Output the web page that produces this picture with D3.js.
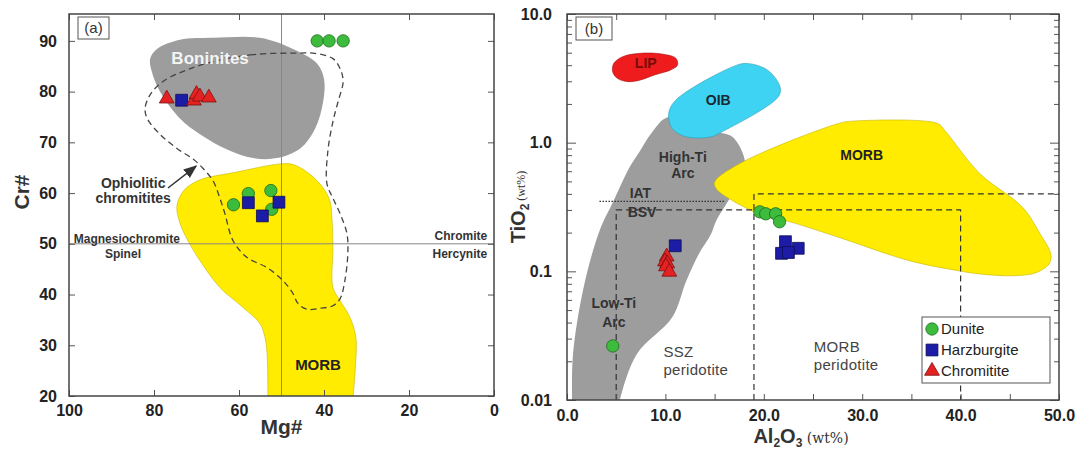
<!DOCTYPE html>
<html>
<head>
<meta charset="utf-8">
<script src="https://cdn.jsdelivr.net/npm/d3@7"></script>
<style>
  body { margin: 0; background: #fff; }
  svg { display: block; font-family: Arial, "Liberation Sans", sans-serif; }
</style>
</head>
<body>
<svg id="chart" width="1075" height="452"></svg>
<script>
// ---------- panel (a): Cr# vs Mg# ----------
const mgTicks = [100, 80, 60, 40, 20, 0];
const crTicks = [20, 30, 40, 50, 60, 70, 80, 90];

// samples [Mg#, Cr#]
const duniteA = [[41.6, 90], [38.8, 90], [35.5, 90], [61.3, 57.7], [57.8, 59.9], [52.5, 60.5], [52.3, 56.8]];
const harzA = [[73.5, 78.3], [57.8, 58.1], [54.5, 55.5], [50.6, 58.2]];
const chromA = [[77.0, 78.6], [70.6, 78.2], [70.0, 79.5], [69.2, 79.0], [67.1, 78.8]];

// fields
const boniniteField = [[80.9, 86.5], [79.3, 88.4], [73.9, 90.2], [66.1, 90.6], [55.1, 90.6], [47.3, 88.4], [41.6, 85.5],
  [40.0, 82.5], [40.2, 78.0], [42.1, 72.7], [45.6, 68.8], [51.1, 66.9], [56.7, 66.9], [62.8, 68.6], [69.2, 71.6],
  [73.9, 74.7], [78.6, 80.0], [80.5, 83.9]];
const morbFieldA = [[74.6, 57.5], [72.9, 60.6], [69.2, 62.6], [61.4, 64.0], [49.6, 65.8], [46.8, 65.5], [43.3, 63.7],
  [40.2, 61.0], [38.6, 58.4], [38.1, 54.5], [37.9, 49.2], [37.9, 41.4], [36.2, 38.8], [33.9, 35.5], [32.5, 31.6],
  [32.6, 26.0], [33.2, 19.0], [33.4, 14.0], [53.3, 14.0], [53.2, 19.0], [53.4, 28.4], [53.9, 31.6], [55.1, 34.3],
  [59.1, 37.5], [64.5, 41.4], [69.2, 46.7], [72.0, 50.6], [73.9, 54.1]];
const ophioliticField = [[45.6, 87.6], [56.7, 87.3], [66.1, 85.9], [72.2, 84.3], [77.9, 82.0], [80.9, 79.4], [82.1, 76.7],
  [81.6, 74.7], [78.6, 71.6], [74.6, 68.8], [70.8, 66.7], [68.5, 64.9], [66.1, 62.4], [64.5, 59.0], [63.3, 55.9],
  [61.4, 50.6], [58.1, 47.3], [53.4, 45.3], [49.6, 42.7], [47.3, 40.2], [46.1, 38.2], [44.0, 37.1], [40.9, 37.3],
  [37.9, 37.8], [36.2, 39.2], [35.1, 42.7], [34.4, 48.0], [34.6, 52.0], [36.2, 55.9], [37.9, 59.0], [39.3, 61.8],
  [39.1, 68.2], [37.9, 74.1], [36.7, 78.0], [35.5, 82.0], [36.2, 84.5], [37.9, 86.5], [42.6, 87.6]];
const arrowA = [[76.7, 61.0], [70.1, 65.3]];
const dividerMg = 50, dividerCr = 50;

// labels [Mg#, Cr#, text]
const boldLabelsA = [[84.9, 62.0, "Ophiolitic"], [84.9, 59.0, "chromitites"]];
const spinelLabelsA = [[86.4, 51.0, "Magnesiochromite", "middle"], [87.3, 48.0, "Spinel", "middle"],
  [1.6, 51.6, "Chromite", "end"], [1.6, 48.0, "Hercynite", "end"]];

// ---------- panel (b): TiO2 vs Al2O3 ----------
const alTicks = [0, 10, 20, 30, 40, 50];
const alMinor = [5, 15, 25, 35, 45];
const tiTicks = [0.01, 0.1, 1, 10];
const tiLabels = ["0.01", "0.1", "1.0", "10.0"];

// samples [Al2O3, TiO2]
const duniteB = [[19.6, 0.29], [20.2, 0.28], [21.2, 0.28], [21.6, 0.243], [4.65, 0.0263]];
const harzB = [[11.0, 0.158], [22.2, 0.170], [23.5, 0.151], [21.8, 0.138], [22.5, 0.140]];
const chromB = [[10.13, 0.130], [9.96, 0.119], [10.19, 0.115], [10.06, 0.109], [10.4, 0.099]];

const lipField = [[4.76, 4.14], [5.66, 4.66], [7.46, 4.95], [9.61, 4.89], [11.06, 4.53], [11.23, 4.01], [10.52, 3.67],
  [8.89, 3.36], [7.46, 3.07], [6.2, 2.98], [5.12, 3.16], [4.64, 3.56]];
const oibField = [[10.33, 1.68], [11.05, 2.14], [16.8, 3.88], [18.23, 4.13], [20.39, 3.66], [21.65, 2.71], [21.47, 2.27],
  [15.72, 1.21], [14.64, 1.11], [12.13, 1.11], [10.68, 1.29]];
const arcField = [[10.33, 1.58], [8.52, 1.17], [7.45, 0.871], [6.37, 0.646], [4.75, 0.355], [3.31, 0.207], [1.69, 0.075],
  [0.61, 0.0227], [0.5, 0.0095], [0.45, 0.007], [5.0, 0.007], [5.29, 0.0095], [7.09, 0.0227], [10.68, 0.0437],
  [12.13, 0.0845], [13.38, 0.136], [14.64, 0.195], [15.18, 0.248], [16.8, 0.40], [18.06, 0.646], [17.88, 0.82],
  [16.8, 1.11], [15.36, 1.21]];
const morbFieldB = [[15.0, 0.493], [17.52, 0.686], [27.59, 1.41], [29.02, 1.47], [37.66, 1.41], [38.37, 1.25],
  [41.97, 0.573], [46.29, 0.315], [48.09, 0.195], [49.17, 0.136], [48.99, 0.114], [47.73, 0.098], [45.58, 0.0925],
  [41.97, 0.0953], [39.81, 0.101], [34.79, 0.121], [27.59, 0.184], [22.19, 0.248], [20.39, 0.263], [16.8, 0.355],
  [15.18, 0.438]];
const sszLine = [[5, 0.01], [5, 0.3], [40, 0.3], [40, 0.01]];
const morbLine = [[19, 0.01], [19, 0.4], [50, 0.4]];
const iatBsvLine = [[3.3, 0.35], [16, 0.35]];

const fieldLabelsB = [[8.0, 4.14, "LIP", "#7a0a0a"], [15.37, 2.15, "OIB", "#1a2a33"], [11.77, 0.778, "High-Ti", "#333"],
  [11.77, 0.578, "Arc", "#333"], [29.94, 0.80, "MORB", "#222"], [7.46, 0.404, "IAT", "#333"], [7.63, 0.29, "BSV", "#333"],
  [4.76, 0.0565, "Low-Ti", "#333"], [4.76, 0.0406, "Arc", "#333"]];
const plainLabelsB = [[9.8, 0.0238, "SSZ"], [9.8, 0.0171, "peridotite"], [25.08, 0.026, "MORB"], [25.08, 0.0187, "peridotite"]];
const legendNames = ["Dunite", "Harzburgite", "Chromitite"];

// ---------- styles ----------
const green = "#3dbb3d", greenStroke = "#1c6b1c";
const blue = "#1c1ca6", blueStroke = "#0c0c55";
const red = "#e52222", redStroke = "#7a1010";
const yellow = "#ffec00", grey = "#9d9d9d";

const svg = d3.select("#chart");
const defs = svg.append("defs");
defs.append("marker").attr("id", "arrow").attr("viewBox", "0 0 10 10").attr("refX", 9).attr("refY", 5)
  .attr("markerWidth", 9).attr("markerHeight", 9).attr("orient", "auto")
  .append("path").attr("d", "M0,1 L10,5 L0,9 Z").attr("fill", "#333");

const smooth = d3.curveCatmullRomClosed.alpha(0.5);

function symbolPath(type) {
  if (type === "circle") return d3.symbol(d3.symbolCircle, 120)();
  if (type === "square") return d3.symbol(d3.symbolSquare, 140)();
  return d3.symbol(d3.symbolTriangle, 95)();
}
function drawPoints(g, data, x, y, type, fill, stroke) {
  g.append("g").selectAll("path").data(data).enter().append("path")
    .attr("transform", d => `translate(${x(d[0])},${y(d[1])})`)
    .attr("d", symbolPath(type))
    .attr("fill", fill).attr("stroke", stroke).attr("stroke-width", 0.8);
}
function frameAxes(g, x, y, opts) {
  const [x0, x1] = x.range(), [y0, y1] = y.range();
  g.append("g").attr("transform", `translate(0,${y0})`)
    .call(d3.axisBottom(x).tickValues(opts.xTicks).tickSize(-opts.tick).tickPadding(opts.xPad).tickFormat(opts.xFormat))
    .call(s => s.select(".domain").remove());
  g.append("g").attr("transform", `translate(0,${y1})`)
    .call(d3.axisTop(x).tickValues(opts.xTicks).tickSize(-opts.tick).tickFormat(""))
    .call(s => s.select(".domain").remove());
  g.append("g").attr("transform", `translate(${x0},0)`)
    .call(d3.axisLeft(y).tickValues(opts.yTicks).tickSize(-opts.ytick).tickPadding(opts.yPad).tickFormat(opts.yFormat))
    .call(s => s.select(".domain").remove());
  g.append("g").attr("transform", `translate(${x1},0)`)
    .call(d3.axisRight(y).tickValues(opts.yTicks).tickSize(-opts.ytick).tickFormat(""))
    .call(s => s.select(".domain").remove());
  g.selectAll(".tick line").attr("stroke", "#555");
  g.selectAll(".tick text").attr("font-size", 16).attr("font-weight", "bold").attr("fill", "#222")
    .attr("font-family", "Arial, 'Liberation Sans', sans-serif");
  g.append("rect").attr("x", x0).attr("y", y1).attr("width", x1 - x0).attr("height", y0 - y1)
    .attr("fill", "none").attr("stroke", "#444").attr("stroke-width", 1.5);
}

// ================= panel (a) =================
const ax = d3.scaleLinear().domain([100, 0]).range([69, 494]);
const ay = d3.scaleLinear().domain([20, 95.3]).range([396, 14]);
const lineA = d3.line().x(d => ax(d[0])).y(d => ay(d[1]));
const pa = svg.append("g");

defs.append("clipPath").attr("id", "clipA").append("rect")
  .attr("x", 69).attr("y", 14).attr("width", 425).attr("height", 382);
const fa = pa.append("g").attr("clip-path", "url(#clipA)");

fa.append("path").attr("d", lineA.curve(smooth)(boniniteField)).attr("fill", grey);
fa.append("path").attr("d", lineA.curve(smooth)(morbFieldA)).attr("fill", yellow)
  .attr("stroke", "#c8b400").attr("stroke-width", 0.6);
fa.append("line").attr("x1", ax(dividerMg)).attr("x2", ax(dividerMg)).attr("y1", ay(20)).attr("y2", ay(95.3))
  .attr("stroke", "#888").attr("stroke-width", 1);
fa.append("line").attr("x1", ax(100)).attr("x2", ax(0)).attr("y1", ay(dividerCr)).attr("y2", ay(dividerCr))
  .attr("stroke", "#888").attr("stroke-width", 1);
fa.append("path").attr("d", lineA.curve(smooth)(ophioliticField)).attr("fill", "none")
  .attr("stroke", "#444").attr("stroke-width", 1.3).attr("stroke-dasharray", "6,4");
pa.append("path").attr("d", lineA.curve(d3.curveLinear)(arrowA)).attr("stroke", "#333").attr("stroke-width", 1.5)
  .attr("fill", "none").attr("marker-end", "url(#arrow)");

pa.append("text").attr("x", ax(66.8)).attr("y", ay(86.6)).attr("text-anchor", "middle").attr("dy", "0.35em")
  .attr("font-size", 17).attr("font-weight", "bold").attr("fill", "#f4f4f4").text("Boninites");
pa.append("text").attr("x", ax(41.4)).attr("y", ay(26.1)).attr("text-anchor", "middle").attr("dy", "0.35em")
  .attr("font-size", 15).attr("font-weight", "bold").attr("fill", "#222").text("MORB");
pa.selectAll(".blab").data(boldLabelsA).enter().append("text")
  .attr("x", d => ax(d[0])).attr("y", d => ay(d[1])).attr("dy", "0.35em").attr("text-anchor", "middle")
  .attr("font-size", 14).attr("font-weight", "bold").attr("fill", "#333").text(d => d[2]);
pa.selectAll(".slab").data(spinelLabelsA).enter().append("text")
  .attr("x", d => ax(d[0])).attr("y", d => ay(d[1])).attr("dy", "0.35em").attr("text-anchor", d => d[3])
  .attr("font-size", 12).attr("font-weight", "bold").attr("fill", "#333").text(d => d[2]);

drawPoints(pa, duniteA, ax, ay, "circle", green, greenStroke);
drawPoints(pa, harzA, ax, ay, "square", blue, blueStroke);
drawPoints(pa, chromA, ax, ay, "triangle", red, redStroke);

frameAxes(pa, ax, ay, { xTicks: mgTicks, yTicks: crTicks, tick: 6, ytick: 6, xPad: 9, yPad: 12,
  xFormat: d3.format("d"), yFormat: d3.format("d") });

pa.append("rect").attr("x", 78).attr("y", 17).attr("width", 31).attr("height", 22)
  .attr("fill", "#fff").attr("stroke", "#555").attr("stroke-width", 1);
pa.append("text").attr("x", 93.5).attr("y", 28).attr("dy", "0.35em").attr("text-anchor", "middle")
  .attr("font-size", 15).attr("fill", "#333").text("(a)");

pa.append("text").attr("x", ax(50)).attr("y", 434).attr("text-anchor", "middle")
  .attr("font-size", 21).attr("font-weight", "bold").attr("fill", "#333").text("Mg#");
pa.append("text").attr("transform", "translate(29,192) rotate(-90)").attr("text-anchor", "middle")
  .attr("font-size", 21).attr("font-weight", "bold").attr("fill", "#333").text("Cr#");

// ================= panel (b) =================
const bx = d3.scaleLinear().domain([0, 50]).range([567, 1059]);
const by = d3.scaleLog().domain([0.01, 10]).range([400, 14]);
const lineB = d3.line().x(d => bx(d[0])).y(d => by(d[1]));
const pb = svg.append("g");

defs.append("clipPath").attr("id", "clipB").append("rect")
  .attr("x", 567).attr("y", 14).attr("width", 492).attr("height", 386);
const fb = pb.append("g").attr("clip-path", "url(#clipB)");

fb.append("path").attr("d", lineB.curve(smooth)(arcField)).attr("fill", grey);
fb.append("path").attr("d", lineB.curve(smooth)(oibField)).attr("fill", "#3ed3f2")
  .attr("stroke", "#2a9cb5").attr("stroke-width", 0.6);
fb.append("path").attr("d", lineB.curve(smooth)(lipField)).attr("fill", "#ee1c1c")
  .attr("stroke", "#a01010").attr("stroke-width", 0.6);
fb.append("path").attr("d", lineB.curve(smooth)(morbFieldB)).attr("fill", yellow)
  .attr("stroke", "#c8b400").attr("stroke-width", 0.6);

[sszLine, morbLine].forEach(l => {
  fb.append("path").attr("d", lineB.curve(d3.curveLinear)(l)).attr("fill", "none")
    .attr("stroke", "#333").attr("stroke-width", 1.2).attr("stroke-dasharray", "6,4");
});
fb.append("path").attr("d", lineB.curve(d3.curveLinear)(iatBsvLine)).attr("fill", "none")
  .attr("stroke", "#333").attr("stroke-width", 1.2).attr("stroke-dasharray", "1.5,1.5");

pb.selectAll(".flab").data(fieldLabelsB).enter().append("text")
  .attr("x", d => bx(d[0])).attr("y", d => by(d[1])).attr("dy", "0.35em").attr("text-anchor", "middle")
  .attr("font-size", 14).attr("font-weight", "bold").attr("fill", d => d[3]).text(d => d[2]);
pb.selectAll(".plab").data(plainLabelsB).enter().append("text")
  .attr("x", d => bx(d[0])).attr("y", d => by(d[1])).attr("dy", "0.35em")
  .attr("font-size", 15).attr("fill", "#444").attr("letter-spacing", 0.3).text(d => d[2]);

drawPoints(pb, duniteB, bx, by, "circle", green, greenStroke);
drawPoints(pb, harzB, bx, by, "square", blue, blueStroke);
drawPoints(pb, chromB, bx, by, "triangle", red, redStroke);

// minor ticks
const tiMinor = by.ticks().filter(v => !tiTicks.some(t => Math.abs(t - v) / t < 1e-6));
pb.append("g").attr("transform", `translate(${bx(0)},0)`)
  .call(d3.axisLeft(by).tickValues(tiMinor).tickSize(-5).tickFormat(""))
  .call(s => s.select(".domain").remove());
pb.append("g").attr("transform", `translate(${bx(50)},0)`)
  .call(d3.axisRight(by).tickValues(tiMinor).tickSize(-5).tickFormat(""))
  .call(s => s.select(".domain").remove());
pb.append("g").attr("transform", `translate(0,${by(0.01)})`)
  .call(d3.axisBottom(bx).tickValues(alMinor).tickSize(-6).tickFormat(""))
  .call(s => s.select(".domain").remove());
pb.append("g").attr("transform", `translate(0,${by(10)})`)
  .call(d3.axisTop(bx).tickValues(alMinor).tickSize(-6).tickFormat(""))
  .call(s => s.select(".domain").remove());

frameAxes(pb, bx, by, { xTicks: alTicks, yTicks: tiTicks, tick: 6, ytick: 9, xPad: 10, yPad: 15,
  xFormat: d3.format(".1f"), yFormat: (d, i) => tiLabels[i] });

// legend
const lg = pb.append("g").attr("transform", "translate(922,317)");
lg.append("rect").attr("width", 128).attr("height", 66).attr("fill", "#fff").attr("stroke", "#555");
const legendTypes = [["circle", green, greenStroke], ["square", blue, blueStroke], ["triangle", red, redStroke]];
legendNames.forEach((n, i) => {
  const yy = 12 + i * 21;
  lg.append("path").attr("transform", `translate(10,${yy})`).attr("d", symbolPath(legendTypes[i][0]))
    .attr("fill", legendTypes[i][1]).attr("stroke", legendTypes[i][2]).attr("stroke-width", 0.8);
  lg.append("text").attr("x", 19).attr("y", yy).attr("dy", "0.35em").attr("font-size", 15)
    .attr("fill", "#222").text(n);
});

pb.append("rect").attr("x", 576).attr("y", 17).attr("width", 36).attr("height", 23)
  .attr("fill", "#fff").attr("stroke", "#555").attr("stroke-width", 1);
pb.append("text").attr("x", 594).attr("y", 28.5).attr("dy", "0.35em").attr("text-anchor", "middle")
  .attr("font-size", 15).attr("fill", "#333").text("(b)");

// axis titles with subscripts
const alT = pb.append("text").attr("x", 801).attr("y", 443).attr("text-anchor", "middle")
  .attr("font-size", 20).attr("font-weight", "bold").attr("fill", "#333");
alT.append("tspan").text("Al");
alT.append("tspan").attr("font-size", 12).attr("dy", 4).text("2");
alT.append("tspan").attr("dy", -4).text("O");
alT.append("tspan").attr("font-size", 12).attr("dy", 4).text("3");
alT.append("tspan").attr("dy", -4).attr("font-size", 14).attr("font-weight", "normal")
  .attr("font-family", "'DejaVu Serif', 'Liberation Serif', serif").text(" (wt%)");

const tiT = pb.append("text").attr("transform", "translate(525,207) rotate(-90)").attr("text-anchor", "middle")
  .attr("font-size", 20).attr("font-weight", "bold").attr("fill", "#333");
tiT.append("tspan").text("TiO");
tiT.append("tspan").attr("font-size", 12).attr("dy", 4).text("2");
tiT.append("tspan").attr("dy", -4).attr("font-size", 12).attr("font-weight", "normal")
  .attr("font-family", "'Liberation Serif', 'DejaVu Serif', serif").text(" (wt%)");
</script>
</body>
</html>
